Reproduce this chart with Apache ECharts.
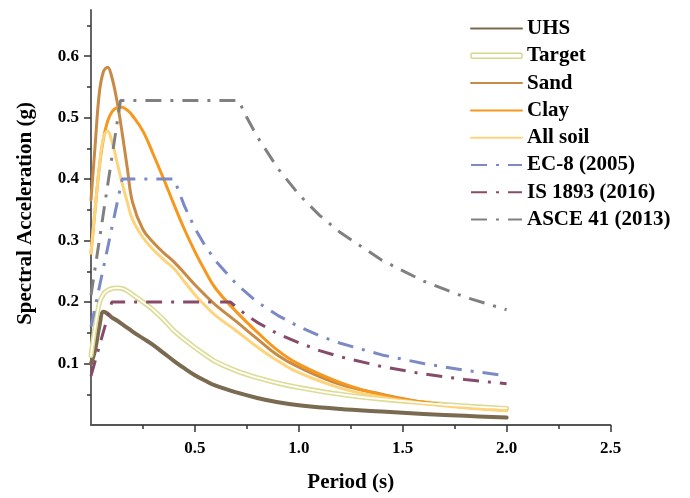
<!DOCTYPE html>
<html>
<head>
<meta charset="utf-8">
<script src="https://cdn.jsdelivr.net/npm/echarts@6/dist/echarts.min.js"></script>
<style>
html,body{margin:0;padding:0;background:#fff;}
#chart{width:690px;height:498px;}
</style>
</head>
<body>
<div id="chart"></div>
<script>
// ---- data ----
const periodSoil = [0, 0.02, 0.04, 0.06, 0.08, 0.1, 0.125, 0.15, 0.175, 0.2, 0.25, 0.3, 0.35, 0.4, 0.45, 0.5, 0.55, 0.6, 0.7, 0.8, 0.9, 1.0, 1.2, 1.4, 1.6, 1.8, 2.0];
const uhs     = [0.100, 0.122, 0.160, 0.184, 0.181, 0.175, 0.170, 0.164, 0.158, 0.152, 0.141, 0.130, 0.117, 0.104, 0.092, 0.081, 0.072, 0.064, 0.053, 0.044, 0.037, 0.032, 0.026, 0.022, 0.018, 0.015, 0.012];
const target  = [0.113, 0.160, 0.198, 0.213, 0.219, 0.222, 0.223, 0.222, 0.218, 0.212, 0.200, 0.187, 0.171, 0.153, 0.139, 0.126, 0.114, 0.103, 0.088, 0.077, 0.068, 0.061, 0.050, 0.042, 0.036, 0.031, 0.027];
const sand    = [0.366, 0.455, 0.540, 0.575, 0.582, 0.566, 0.527, 0.475, 0.417, 0.362, 0.318, 0.297, 0.280, 0.265, 0.247, 0.228, 0.211, 0.195, 0.168, 0.140, 0.113, 0.094, 0.066, 0.050, 0.037, 0.029, 0.024];
const clay    = [0.279, 0.351, 0.419, 0.466, 0.494, 0.509, 0.516, 0.517, 0.512, 0.503, 0.478, 0.440, 0.400, 0.358, 0.318, 0.282, 0.250, 0.222, 0.184, 0.151, 0.121, 0.099, 0.069, 0.049, 0.037, 0.029, 0.025];
const allSoil = [0.280, 0.352, 0.420, 0.468, 0.478, 0.462, 0.428, 0.393, 0.362, 0.334, 0.305, 0.285, 0.269, 0.254, 0.233, 0.212, 0.194, 0.178, 0.153, 0.127, 0.104, 0.085, 0.060, 0.045, 0.035, 0.028, 0.023];

const periodEC8 = [0, 0.15, 0.4, 0.45, 0.5, 0.55, 0.6, 0.7, 0.8, 0.9, 1.0, 1.1, 1.2, 1.4, 1.6, 1.8, 2.0];
const ec8       = [0.16, 0.4, 0.4, 0.356, 0.32, 0.291, 0.267, 0.229, 0.2, 0.178, 0.16, 0.145, 0.133, 0.114, 0.1, 0.089, 0.08];

const periodIS = [0, 0.1, 0.67, 0.75, 0.8, 0.9, 1.0, 1.1, 1.2, 1.4, 1.6, 1.8, 2.0];
const is1893   = [0.08, 0.2, 0.2, 0.178, 0.167, 0.148, 0.134, 0.121, 0.111, 0.095, 0.083, 0.074, 0.067];

const periodASCE = [0, 0.142, 0.71, 0.75, 0.8, 0.9, 1.0, 1.1, 1.2, 1.4, 1.6, 1.8, 2.0];
const asce41     = [0.211, 0.528, 0.528, 0.5, 0.469, 0.417, 0.375, 0.341, 0.313, 0.268, 0.234, 0.208, 0.1875];

const xTickLabels = [0.5, 1.0, 1.5, 2.0, 2.5];
const yTickLabels = [0.1, 0.2, 0.3, 0.4, 0.5, 0.6];
const yMinorTicks = [0.05, 0.15, 0.25, 0.35, 0.45, 0.55, 0.65];

const seriesNames = ['UHS', 'Target', 'Sand', 'Clay', 'All soil', 'EC-8 (2005)', 'IS 1893 (2016)', 'ASCE 41 (2013)'];

// ---- chart ----
const pair = (xs, ys) => xs.map((x, i) => [x, ys[i]]);
const FONT = 'Liberation Serif';
const dashDot = [16, 9, 3, 9];

function solid(name, data, color, width) {
  return { name, type: 'line', data, showSymbol: false, symbol: 'none', smooth: 0.4,
    lineStyle: { color, width, cap: 'round', join: 'round' }, itemStyle: { color }, z: 2 };
}
function coded(name, data, color) {
  return { name, type: 'line', data, showSymbol: false, symbol: 'none',
    lineStyle: { color, width: 3, type: dashDot, cap: 'butt' }, itemStyle: { color }, z: 3 };
}

const chart = echarts.init(document.getElementById('chart'), null, { renderer: 'canvas' });
const axisLineStyle = { color: '#555', width: 1.8 };
chart.setOption({
  animation: false,
  backgroundColor: '#fff',
  grid: { left: 91, right: 79.5, top: 10, bottom: 70, containLabel: false },
  xAxis: [{
    type: 'value', min: 0, max: 2.5, interval: 0.5,
    name: 'Period (s)', nameLocation: 'middle', nameGap: 47,
    nameTextStyle: { fontFamily: FONT, fontWeight: 'bold', fontSize: 21, color: '#000' },
    axisLine: { show: true, onZero: false, lineStyle: axisLineStyle },
    axisTick: { show: true, length: 7, customValues: xTickLabels, lineStyle: { color: '#333', width: 1.5 } },
    minorTick: { show: true, splitNumber: 2, length: 4, lineStyle: { color: '#333', width: 1.5 } },
    axisLabel: { customValues: xTickLabels, margin: 15, fontFamily: FONT, fontWeight: 'bold', fontSize: 17, color: '#000',
      formatter: v => v.toFixed(1) },
    splitLine: { show: false }
  }],
  yAxis: [{
    type: 'value', min: 0, max: 0.675, interval: 0.05,
    name: 'Spectral Acceleration (g)', nameLocation: 'middle', nameGap: 55,
    nameTextStyle: { fontFamily: FONT, fontWeight: 'bold', fontSize: 21, color: '#000', padding: [0, 0, 0, 8] },
    axisLine: { show: true, onZero: false, lineStyle: axisLineStyle },
    axisTick: { show: true, length: 7, customValues: yTickLabels, lineStyle: { color: '#333', width: 1.5 } },
    axisLabel: { customValues: yTickLabels, margin: 12, fontFamily: FONT, fontWeight: 'bold', fontSize: 17, color: '#000',
      formatter: v => v.toFixed(1) },
    splitLine: { show: false }
  }, {
    type: 'value', min: 0, max: 0.675, interval: 0.05, position: 'left', offset: 0,
    axisLine: { show: false },
    axisTick: { show: true, length: 4, customValues: yMinorTicks, lineStyle: { color: '#333', width: 1.5 } },
    axisLabel: { show: false },
    splitLine: { show: false }
  }],
  legend: {
    orient: 'vertical', left: 470, top: 18, padding: 0, itemWidth: 51, itemHeight: 5, itemGap: 6.3,
    itemStyle: { opacity: 0 },
    textStyle: { fontFamily: FONT, fontWeight: 'bold', fontSize: 21, color: '#000', lineHeight: 21 },
    data: [
      { name: seriesNames[0] },
      { name: seriesNames[1], icon: 'roundRect', itemStyle: { opacity: 1, color: '#fff', borderColor: '#D6D68C', borderWidth: 1.5 } },
      { name: seriesNames[2] }, { name: seriesNames[3] }, { name: seriesNames[4] },
      { name: seriesNames[5] }, { name: seriesNames[6] }, { name: seriesNames[7] }
    ]
  },
  series: [
    solid(seriesNames[0], pair(periodSoil, uhs), '#7A6A4F', 4),
    solid(seriesNames[1], pair(periodSoil, target), '#DCDC94', 5),
    Object.assign(solid('', pair(periodSoil, target), '#ffffff', 1.8), { silent: true, legendHoverLink: false, z: 2.1 }),
    solid(seriesNames[2], pair(periodSoil, sand), '#C88A45', 3),
    solid(seriesNames[3], pair(periodSoil, clay), '#F7981E', 3),
    solid(seriesNames[4], pair(periodSoil, allSoil), '#FDD47C', 3),
    coded(seriesNames[5], pair(periodEC8, ec8), '#7B8AC4'),
    coded(seriesNames[6], pair(periodIS, is1893), '#874B6A'),
    coded(seriesNames[7], pair(periodASCE, asce41), '#808080')
  ]
});
</script>
</body>
</html>
